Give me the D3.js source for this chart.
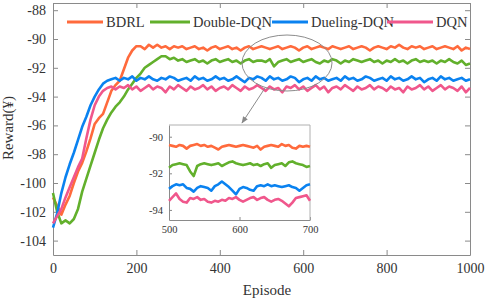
<!DOCTYPE html>
<html><head><meta charset="utf-8">
<script src="https://cdn.jsdelivr.net/npm/d3@7"></script>
<style>html,body{margin:0;padding:0;background:#fff;}svg{display:block;}</style>
</head><body><svg id="c" width="491" height="301"></svg>
<script>
const seriesNames = ["BDRL","Double-DQN","Dueling-DQN","DQN"];
const seriesColors = ["#ff6a3c","#62b02c","#0a82f0","#f0578c"];
const xTicks = [0,200,400,600,800,1000];
const yTicks = [-104,-102,-100,-98,-96,-94,-92,-90,-88];
const insetXTicks = [500,600,700];
const insetYTicks = [-94,-92,-90];
const episodeStep = 10;
const bdrl = [-101.0,-101.6,-102.2,-101.5,-100.9,-100.0,-99.2,-98.6,-97.8,-96.9,
-95.9,-95.5,-95.2,-94.4,-93.6,-93.2,-92.9,-92.1,-91.3,-90.8,
-90.5,-90.5,-90.7,-90.4,-90.6,-90.4,-90.6,-90.5,-90.7,-90.5,
-90.6,-90.5,-90.7,-90.6,-90.5,-90.7,-90.6,-90.8,-90.6,-90.5,
-90.7,-90.6,-90.5,-90.7,-90.6,-90.8,-90.6,-90.5,-90.7,-90.6,
-90.5,-90.6,-90.7,-90.6,-90.5,-90.7,-90.6,-90.5,-90.6,-90.8,
-90.6,-90.5,-90.7,-90.6,-90.5,-90.6,-90.7,-90.5,-90.6,-90.7,
-90.6,-90.5,-90.7,-90.6,-90.5,-90.6,-90.8,-90.6,-90.5,-90.6,
-90.7,-90.5,-90.6,-90.4,-90.6,-90.7,-90.5,-90.6,-90.5,-90.7,
-90.6,-90.5,-90.7,-90.6,-90.5,-90.6,-90.7,-90.5,-90.8,-90.6,-90.7];
const doubleDqn = [-100.7,-102.0,-102.8,-102.6,-102.8,-102.5,-101.8,-100.6,-99.7,-98.8,
-97.9,-97.0,-96.2,-95.6,-95.1,-94.7,-94.4,-94.0,-93.5,-93.1,
-92.7,-92.4,-92.0,-91.8,-91.6,-91.4,-91.2,-91.2,-91.4,-91.3,
-91.5,-91.4,-91.6,-91.5,-91.4,-91.6,-91.5,-91.7,-91.5,-91.4,
-91.6,-91.5,-91.4,-91.6,-91.5,-91.7,-91.5,-91.4,-91.6,-91.5,
-91.5,-91.6,-91.4,-91.9,-91.6,-91.5,-91.4,-91.6,-91.5,-91.4,
-91.6,-91.5,-91.4,-91.6,-91.7,-91.5,-91.6,-91.4,-91.5,-91.7,
-91.5,-91.6,-91.4,-91.5,-91.6,-91.5,-91.4,-91.6,-91.5,-91.7,
-91.5,-91.6,-91.4,-91.6,-91.5,-91.7,-91.5,-91.4,-91.6,-91.5,
-91.6,-91.5,-91.7,-91.5,-91.6,-91.4,-91.6,-91.7,-91.5,-91.8,-91.7];
const duelingDqn = [-103.1,-102.1,-100.7,-99.6,-98.7,-97.9,-97.0,-96.1,-95.4,-94.6,
-94.0,-93.5,-93.1,-92.9,-92.8,-92.7,-92.9,-92.7,-92.8,-92.6,
-92.9,-92.7,-92.8,-92.6,-92.8,-92.9,-92.7,-92.8,-92.6,-92.7,
-92.9,-92.8,-92.7,-92.9,-92.6,-92.8,-92.7,-92.9,-92.8,-92.6,
-92.8,-92.7,-92.9,-92.8,-92.6,-92.8,-93.0,-92.7,-92.8,-92.6,
-92.7,-92.9,-92.6,-92.8,-92.7,-92.9,-92.8,-92.6,-92.7,-93.0,
-92.8,-92.7,-92.9,-92.6,-92.8,-92.7,-92.9,-92.8,-92.7,-92.9,
-92.6,-92.8,-92.7,-92.9,-92.8,-92.6,-92.7,-92.9,-92.8,-92.7,
-92.9,-92.6,-92.8,-92.7,-92.9,-92.8,-92.6,-92.8,-92.7,-93.0,
-92.8,-92.7,-92.9,-92.6,-92.8,-92.7,-92.9,-92.8,-92.7,-92.9,-92.8];
const dqn = [-102.8,-102.3,-101.8,-101.0,-100.3,-99.6,-98.9,-98.3,-96.9,-95.6,
-94.6,-94.0,-93.6,-93.4,-93.3,-93.5,-93.3,-93.4,-93.2,-93.5,
-93.3,-93.6,-93.4,-93.2,-93.5,-93.3,-93.4,-93.7,-93.3,-93.5,
-93.2,-93.4,-93.6,-93.3,-93.5,-93.4,-93.2,-93.5,-93.3,-93.6,
-93.4,-93.3,-93.5,-93.2,-93.4,-93.6,-93.3,-93.5,-93.4,-93.2,
-93.4,-93.6,-93.3,-93.5,-93.4,-93.7,-93.3,-93.4,-93.2,-93.5,
-93.3,-93.6,-93.4,-93.2,-93.5,-93.3,-93.7,-93.4,-93.3,-93.5,
-93.2,-93.4,-93.6,-93.3,-93.5,-93.4,-93.2,-93.5,-93.3,-93.4,
-93.6,-93.3,-93.5,-93.4,-93.7,-93.3,-93.5,-93.4,-93.2,-93.5,
-93.3,-93.6,-93.4,-93.2,-93.5,-93.3,-93.4,-93.6,-93.3,-93.7,-93.4];
const insetStart = 500, insetStep = 5;
const bdrlZoom = [-90.45,-90.5,-90.55,-90.45,-90.5,-90.65,-90.5,-90.45,-90.4,-90.5,
-90.45,-90.55,-90.5,-90.6,-90.7,-90.55,-90.5,-90.45,-90.5,-90.55,
-90.5,-90.45,-90.5,-90.55,-90.6,-90.5,-90.7,-90.55,-90.5,-90.45,
-90.5,-90.55,-90.4,-90.5,-90.45,-90.6,-90.65,-90.5,-90.55,-90.5,-90.55];
const doubleDqnZoom = [-91.7,-91.55,-91.5,-91.45,-91.5,-91.55,-91.9,-92.15,-91.6,-91.5,
-91.45,-91.5,-91.55,-91.5,-91.45,-91.6,-91.5,-91.4,-91.35,-91.45,
-91.5,-91.55,-91.5,-91.45,-91.55,-91.5,-91.6,-91.5,-91.45,-91.7,
-91.55,-91.5,-91.45,-91.6,-91.4,-91.35,-91.45,-91.5,-91.55,-91.65,-91.6];
const duelingDqnZoom = [-92.85,-92.7,-92.6,-92.65,-92.6,-92.8,-92.85,-93.0,-92.8,-92.7,
-92.75,-92.8,-92.95,-92.7,-92.6,-92.45,-92.6,-92.75,-92.95,-93.15,
-92.85,-92.75,-92.8,-92.9,-92.95,-92.7,-92.65,-92.7,-92.6,-92.7,
-92.65,-92.7,-92.75,-92.7,-92.65,-92.75,-92.8,-92.95,-92.8,-92.65,-92.6];
const dqnZoom = [-93.5,-93.3,-93.1,-93.4,-93.55,-93.6,-93.35,-93.4,-93.3,-93.45,
-93.4,-93.55,-93.6,-93.5,-93.55,-93.45,-93.5,-93.35,-93.4,-93.3,
-93.45,-93.55,-93.45,-93.35,-93.3,-93.45,-93.35,-93.3,-93.45,-93.55,
-93.45,-93.4,-93.5,-93.65,-93.8,-93.6,-93.35,-93.3,-93.25,-93.2,-93.5];

const mainData = [bdrl, doubleDqn, duelingDqn, dqn];
const zoomData = [bdrlZoom, doubleDqnZoom, duelingDqnZoom, dqnZoom];

const svg = d3.select("#c");
const serif = '"Liberation Serif"';
const axisCol = "#8a8a8a", textCol = "#333";

const L = 53, R = 470, T = 3, B = 255;
const x = d3.scaleLinear().domain([0,1000]).range([L,R]);
const y = d3.scaleLinear().domain([-105,-87.5]).range([B,T]);
const fmt = d => String(d);

function styleAxis(g, fs){
  g.attr("font-family", null).attr("font-size", null);
  g.selectAll(".domain").attr("stroke", axisCol);
  g.selectAll(".tick line").attr("stroke", axisCol);
  g.selectAll(".tick text").attr("fill", textCol)
    .style("font-family", serif).style("font-size", fs + "px");
}

svg.append("g").attr("transform",`translate(0,${B})`)
  .call(d3.axisBottom(x).tickValues(xTicks).tickSize(-5).tickPadding(8).tickSizeOuter(0).tickFormat(fmt))
  .call(g=>styleAxis(g,14));
svg.append("g").attr("transform",`translate(0,${T})`)
  .call(d3.axisTop(x).tickValues(xTicks).tickSize(-5).tickFormat("").tickSizeOuter(0))
  .call(g=>styleAxis(g,14));
svg.append("g").attr("transform",`translate(${L},0)`)
  .call(d3.axisLeft(y).tickValues(yTicks).tickSize(-5).tickPadding(7).tickSizeOuter(0).tickFormat(fmt))
  .call(g=>styleAxis(g,14));
svg.append("g").attr("transform",`translate(${R},0)`)
  .call(d3.axisRight(y).tickValues(yTicks).tickSize(-5).tickFormat("").tickSizeOuter(0))
  .call(g=>styleAxis(g,14));

const line = d3.line().x((d,i)=>x(i*episodeStep)).y(d=>y(d));
mainData.forEach((arr,k)=>{
  svg.append("path").attr("d", line(arr)).attr("fill","none")
    .attr("stroke", seriesColors[k]).attr("stroke-width",2.6).attr("stroke-linejoin","round");
});

svg.append("text").attr("x",267).attr("y",295).attr("text-anchor","middle")
  .style("font-family",serif).style("font-size","15px").attr("fill",textCol).text("Episode");
svg.append("text").attr("transform","translate(13,128) rotate(-90)").attr("text-anchor","middle")
  .style("font-family",serif).style("font-size","15px").attr("fill",textCol).text("Reward(¥)");

const legX = [67,150,272,387], legLen=[36,40,36,46];
seriesNames.forEach((n,k)=>{
  svg.append("line").attr("x1",legX[k]).attr("x2",legX[k]+legLen[k]).attr("y1",22).attr("y2",22)
    .attr("stroke",seriesColors[k]).attr("stroke-width",2.8);
  svg.append("text").attr("x",legX[k]+legLen[k]+3).attr("y",27)
    .style("font-family",serif).style("font-size","14.5px").attr("fill",textCol).text(n);
});

svg.append("defs").append("marker").attr("id","ah").attr("viewBox","0 0 10 10")
  .attr("refX",9).attr("refY",5).attr("markerWidth",7).attr("markerHeight",7).attr("orient","auto")
  .append("path").attr("d","M0,1 L10,5 L0,9 Z").attr("fill","#888");
svg.append("ellipse").attr("cx",287).attr("cy",63).attr("rx",45).attr("ry",28)
  .attr("fill","none").attr("stroke","#8c8c8c").attr("stroke-width",1);
svg.append("line").attr("x1",265).attr("y1",88).attr("x2",242).attr("y2",123)
  .attr("stroke","#8c8c8c").attr("stroke-width",1).attr("marker-end","url(#ah)");

const iL=169, iR=310, iT=125, iB=220;
const xi = d3.scaleLinear().domain([500,700]).range([iL,iR]);
const yi = d3.scaleLinear().domain([-94.55,-89.36]).range([iB,iT]);
svg.append("rect").attr("x",iL).attr("y",iT).attr("width",iR-iL).attr("height",iB-iT).attr("fill","#fff");
svg.append("g").attr("transform",`translate(0,${iB})`)
  .call(d3.axisBottom(xi).tickValues(insetXTicks).tickSize(-3).tickPadding(6).tickSizeOuter(0).tickFormat(fmt))
  .call(g=>styleAxis(g,10.5));
svg.append("g").attr("transform",`translate(${iL},0)`)
  .call(d3.axisLeft(yi).tickValues(insetYTicks).tickSize(-3).tickPadding(6).tickSizeOuter(0).tickFormat(fmt))
  .call(g=>styleAxis(g,10.5));
svg.append("path").attr("d",`M${iL},${iT}H${iR}V${iB}`).attr("fill","none").attr("stroke","#b0b0b0");
const lineI = d3.line().x((d,i)=>xi(insetStart+i*insetStep)).y(d=>yi(d));
zoomData.forEach((arr,k)=>{
  svg.append("path").attr("d", lineI(arr)).attr("fill","none")
    .attr("stroke", seriesColors[k]).attr("stroke-width",2.6).attr("stroke-linejoin","round");
});
</script></body></html>
